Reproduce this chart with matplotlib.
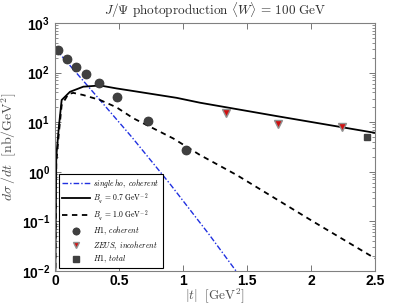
import numpy as np
import matplotlib
matplotlib.use('Agg')
import matplotlib.pyplot as plt

plt.rcParams['mathtext.fontset'] = 'cm'
plt.rcParams['font.family'] = ['Liberation Sans', 'DejaVu Sans']

# courbe bleue : single ho, coherent
t_single = [0.0, 0.3, 0.6, 0.9, 1.2, 1.5]
log_single = [2.49, 1.60, 0.70, -0.25, -1.25, -2.30]

# courbe pleine : B_q = 0.7 GeV^-2
t_b07 = [0.0, 0.01, 0.03, 0.052, 0.117, 0.221, 0.352, 0.48, 0.612, 0.95, 1.133, 1.73, 2.5]
s_b07 = [1e-3, 2.0, 8.0, 28.0, 41.0, 52.0, 55.0, 48.0, 42.5, 31.0, 24.7, 13.3, 6.1]

# courbe en tirets : B_q = 1.0 GeV^-2
t_b10 = [0.0, 0.01, 0.03, 0.052, 0.104, 0.143, 0.221, 0.352, 0.48, 0.612, 0.924, 1.133, 1.42, 2.018, 2.5]
s_b10 = [1e-3, 1.5, 6.0, 22.0, 37.0, 39.0, 35.3, 28.0, 20.0, 12.0, 4.7, 2.18, 0.86, 0.099, 0.018]

# donnees
t_h1coh = [0.021, 0.091, 0.162, 0.242, 0.341, 0.482, 0.723, 1.023]
s_h1coh = [290.0, 185.0, 131.0, 92.0, 61.0, 32.7, 10.4, 2.7]

t_zeus = [1.336, 1.74, 2.245]
s_zeus = [15.1, 9.2, 7.9]

t_h1tot = [2.435]
s_h1tot = [5.0]


def main():
    fig = plt.figure(figsize=(4.15, 3.07), dpi=100)
    ax = fig.add_axes([55 / 415, 36 / 307, 320 / 415, 248 / 307])

    ax.plot(t_single, 10 ** np.array(log_single), color='#2030e0', ls=(0, (4, 1.5, 1, 1.5)),
            lw=1.0, label=r'$single\,ho,\ coherent$')
    ax.plot(t_b07, s_b07, color='black', lw=1.3, label=r'$B_q\,=\,0.7\ \mathrm{GeV}^{-2}$')
    ax.plot(t_b10, s_b10, color='black', lw=1.3, ls=(0, (3, 2.5)),
            label=r'$B_q\,=\,1.0\ \mathrm{GeV}^{-2}$')
    ax.plot(t_h1coh, s_h1coh, 'o', color='#404040', ms=6.5, mec='#303030', mew=0.5,
            label=r'$H1,\ coherent$')
    ax.plot(t_zeus, s_zeus, 'v', color='#d01010', ms=6, mec='#909090', mew=1.0,
            label=r'$ZEUS,\ incoherent$')
    ax.plot(t_h1tot, s_h1tot, 's', color='#404040', ms=5, mec='#404040',
            label=r'$H1,\ total$')

    ax.set_yscale('log')
    ax.set_xlim(0, 2.5)
    ax.set_ylim(1e-2, 1e3)
    ax.set_xticks([0, 0.5, 1, 1.5, 2, 2.5])
    ax.set_xticklabels(['0', '0.5', '1', '1.5', '2', '2.5'])

    ax.tick_params(which='both', direction='in', top=True, right=True, color='#606060')
    ax.tick_params(which='major', length=4, width=0.6, labelsize=10)
    ax.tick_params(which='minor', length=2, width=0.5)
    ax.tick_params(axis='x', pad=2)
    for lab in ax.get_xticklabels() + ax.get_yticklabels():
        lab.set_fontweight('bold')
    for sp in ax.spines.values():
        sp.set_color('#808080')
        sp.set_linewidth(0.8)

    ax.set_title(r'$J/\Psi\ \mathrm{photoproduction}\ \langle W\rangle\,=\,100\ \mathrm{GeV}$',
                 fontsize=9.5, color='#303030', pad=6)
    ax.set_xlabel(r'$|t|\ \ [\mathrm{GeV}^2]$', fontsize=9.5, color='#505050', labelpad=-1)
    ax.set_ylabel(r'$d\sigma\,/dt\ \ [\mathrm{nb}/\mathrm{GeV}^2]$', fontsize=10, color='#505050',
                  labelpad=2)

    leg = ax.legend(loc='lower left', bbox_to_anchor=(0.0125, 0.012), fontsize=5.5,
                    fancybox=False, framealpha=1, edgecolor='black', borderpad=0.4,
                    handlelength=3.6, handletextpad=0.5, labelspacing=0.25,
                    markerscale=0.8, borderaxespad=0)
    leg.get_frame().set_linewidth(0.8)

    fig.savefig('out.png', dpi=100)


if __name__ == '__main__':
    main()
